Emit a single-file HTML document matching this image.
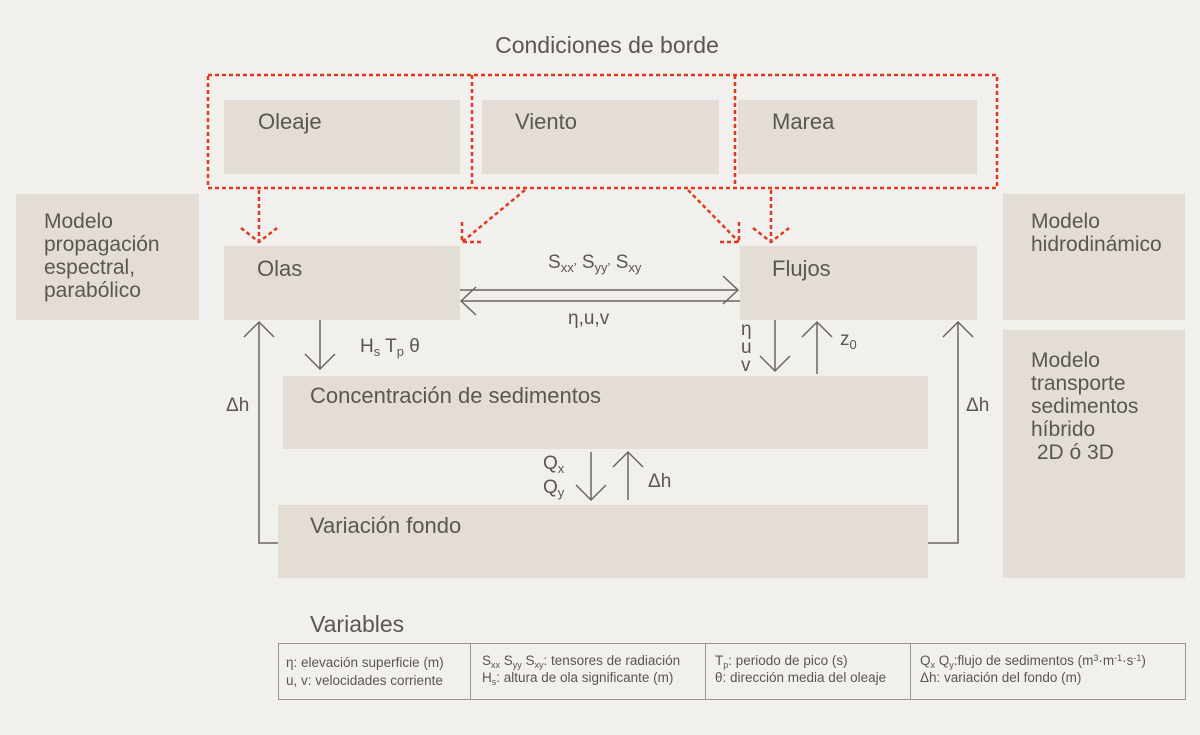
<!DOCTYPE html>
<html><head><meta charset="utf-8"><style>
html,body{margin:0;padding:0;background:#f2f0ec;}
svg{display:block;}
text{font-family:"Liberation Sans","DejaVu Sans",sans-serif;fill:#5a5653;}
</style></head><body>
<svg width="1200" height="735" viewBox="0 0 1200 735" xmlns="http://www.w3.org/2000/svg">
<rect width="1200" height="735" fill="#f2f0ec"/>
<g fill="#e3ddd6">
<rect x="224" y="100" width="236" height="74"/>
<rect x="482" y="100" width="237" height="74"/>
<rect x="738" y="100" width="239" height="74"/>
<rect x="16" y="194" width="183" height="126"/>
<rect x="1003" y="194" width="182" height="126"/>
<rect x="1003" y="330" width="182" height="248"/>
<rect x="224" y="246" width="236" height="74"/>
<rect x="740" y="246" width="237" height="74"/>
<rect x="283" y="376" width="645" height="73"/>
<rect x="278" y="505" width="650" height="73"/>
</g>
<text x="607" y="53" font-size="23" text-anchor="middle">Condiciones de borde</text>
<g stroke="#e0391f" stroke-width="2.5" stroke-dasharray="4,3" fill="none">
<rect x="208" y="75" width="789" height="113"/>
<line x1="472" y1="75" x2="472" y2="188"/>
<line x1="735" y1="75" x2="735" y2="188"/>
<line x1="259" y1="190" x2="259" y2="240"/>
<polyline points="241,228 259,242 277,228"/>
<line x1="771" y1="190" x2="771" y2="240"/>
<polyline points="753,228 771,242 789,228"/>
<line x1="525" y1="190" x2="462" y2="242"/>
<polyline points="462,222 462,242 482,242"/>
<line x1="688" y1="190" x2="739" y2="242"/>
<polyline points="739,222 739,242 719,242"/>
</g>
<g font-size="22">
<text x="258" y="129">Oleaje</text>
<text x="515" y="129">Viento</text>
<text x="772" y="129">Marea</text>
<text x="257" y="276">Olas</text>
<text x="772" y="276">Flujos</text>
<text x="310" y="403">Concentración de sedimentos</text>
<text x="310" y="533">Variación fondo</text>
</g>
<g font-size="21">
<text x="44" y="228">Modelo</text>
<text x="44" y="251">propagación</text>
<text x="44" y="274">espectral,</text>
<text x="44" y="297">parabólico</text>
<text x="1031" y="228">Modelo</text>
<text x="1031" y="251">hidrodinámico</text>
<text x="1031" y="367">Modelo</text>
<text x="1031" y="390">transporte</text>
<text x="1031" y="413">sedimentos</text>
<text x="1031" y="436">híbrido</text>
<text x="1031" y="459">&#160;2D ó 3D</text>
</g>
<text x="310" y="632" font-size="23">Variables</text>
<g stroke="#6a6663" stroke-width="1.5" fill="none">
<line x1="460" y1="290" x2="738" y2="290"/>
<polyline points="723,276 738,290 723,304"/>
<line x1="740" y1="301" x2="461" y2="301"/>
<polyline points="476,287 461,301 476,315"/>
<line x1="320" y1="320" x2="320" y2="369"/>
<polyline points="305,354 320,369 335,354"/>
<line x1="775" y1="320" x2="775" y2="371"/>
<polyline points="760,356 775,371 790,356"/>
<line x1="817" y1="374" x2="817" y2="322"/>
<polyline points="802,337 817,322 832,337"/>
<polyline points="278,543 259,543 259,322"/>
<polyline points="244,337 259,322 274,337"/>
<polyline points="928,543 958,543 958,322"/>
<polyline points="943,337 958,322 973,337"/>
<line x1="591" y1="452" x2="591" y2="500"/>
<polyline points="576,485 591,500 606,485"/>
<line x1="628" y1="500" x2="628" y2="452"/>
<polyline points="613,467 628,452 643,467"/>
</g>
<g font-size="19">
<text x="548" y="268">S<tspan font-size="13" dy="4">xx’</tspan><tspan dy="-4"> S</tspan><tspan font-size="13" dy="4">yy’</tspan><tspan dy="-4"> S</tspan><tspan font-size="13" dy="4">xy</tspan></text>
<text x="568" y="324">η,u,v</text>
<text x="360" y="352">H<tspan font-size="13" dy="4">s</tspan><tspan dy="-4"> T</tspan><tspan font-size="13" dy="4">p</tspan><tspan dy="-4"> θ</tspan></text>
<text x="741" y="335">η</text>
<text x="741" y="353">u</text>
<text x="741" y="371">v</text>
<text x="840" y="345">z<tspan font-size="13" dy="4">0</tspan></text>
<text x="226" y="411">Δh</text>
<text x="966" y="411">Δh</text>
<text x="543" y="469">Q<tspan font-size="13" dy="4">x</tspan></text>
<text x="543" y="493">Q<tspan font-size="13" dy="4">y</tspan></text>
<text x="648" y="487">Δh</text>
</g>
<g stroke="#9a9592" stroke-width="1" fill="none">
<rect x="278.5" y="643.5" width="907" height="56"/>
<line x1="470.5" y1="643" x2="470.5" y2="700"/>
<line x1="705.5" y1="643" x2="705.5" y2="700"/>
<line x1="910.5" y1="643" x2="910.5" y2="700"/>
</g>
<g font-size="13.5">
<text x="286" y="667" fill="#6a6663">η: elevación superficie (m)</text>
<text x="286" y="685" fill="#6a6663">u, v: velocidades corriente</text>
<text x="482" y="665" fill="#6a6663">S<tspan font-size="9" dy="3">xx</tspan><tspan dy="-3"> S</tspan><tspan font-size="9" dy="3">yy</tspan><tspan dy="-3"> S</tspan><tspan font-size="9" dy="3">xy</tspan><tspan dy="-3">: tensores de radiación</tspan></text>
<text x="482" y="682" fill="#6a6663">H<tspan font-size="9" dy="3">s</tspan><tspan dy="-3">: altura de ola significante (m)</tspan></text>
<text x="715" y="665" fill="#6a6663">T<tspan font-size="9" dy="3">p</tspan><tspan dy="-3">: periodo de pico (s)</tspan></text>
<text x="715" y="682" fill="#6a6663">θ: dirección media del oleaje</text>
<text x="920" y="665" fill="#6a6663">Q<tspan font-size="9" dy="3">x</tspan><tspan dy="-3"> Q</tspan><tspan font-size="9" dy="3">y</tspan><tspan dy="-3">:flujo de sedimentos (m</tspan><tspan font-size="9" dy="-4">3</tspan><tspan dy="4">·m</tspan><tspan font-size="9" dy="-4">-1</tspan><tspan dy="4">·s</tspan><tspan font-size="9" dy="-4">-1</tspan><tspan dy="4">)</tspan></text>
<text x="920" y="682" fill="#6a6663">Δh: variación del fondo (m)</text>
</g>
</svg>
</body></html>
